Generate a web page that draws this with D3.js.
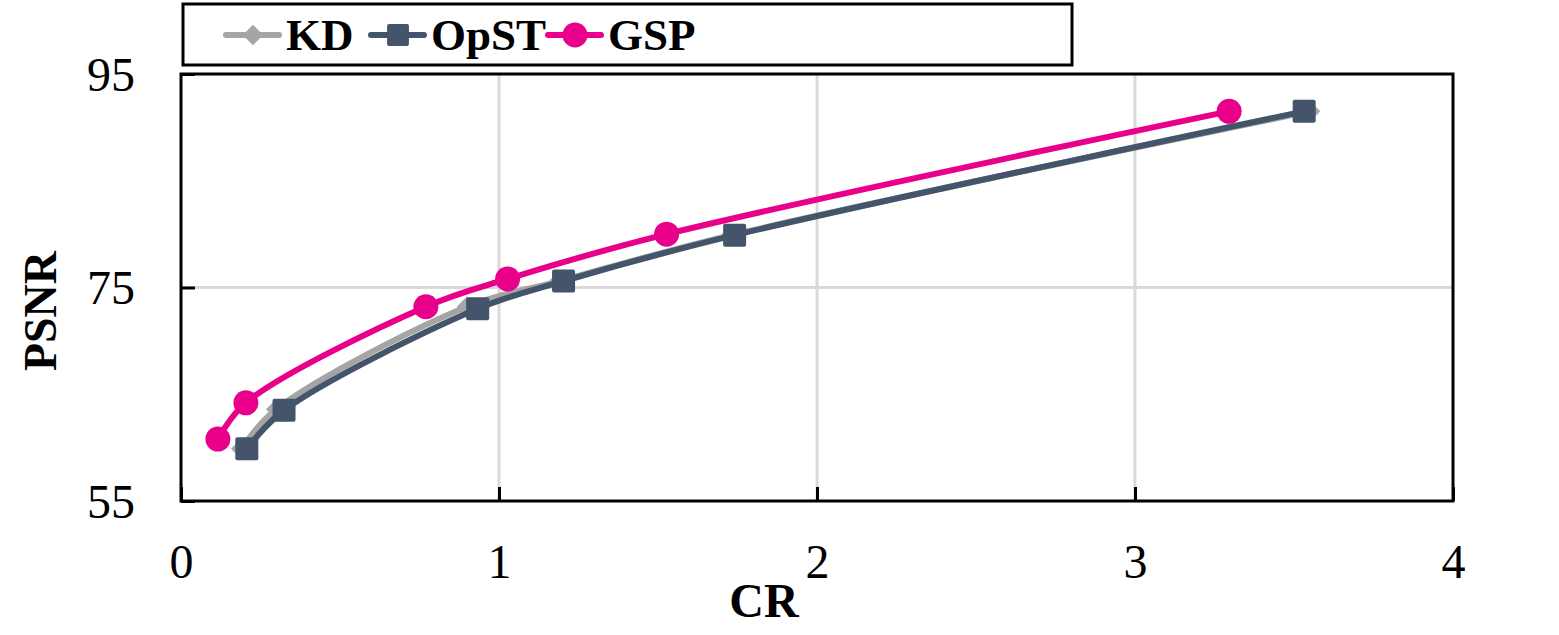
<!DOCTYPE html>
<html><head><meta charset="utf-8">
<script src="https://cdn.jsdelivr.net/npm/d3@7"></script>
<style>body{margin:0;background:#fff}svg{display:block}</style>
</head><body>
<svg id="c" width="1559" height="635"></svg>
<script>
const seriesNames = ["KD","OpST","GSP"];
const seriesColors = ["#A5A5A5","#44546A","#E8008B"];
const kdX = [0.19, 0.30, 0.90, 1.19, 1.73, 3.55];
const kdY = [59.9, 63.6, 73.2, 75.6, 79.9, 91.5];
const opstX = [0.207, 0.324, 0.933, 1.203, 1.741, 3.532];
const opstY = [59.9, 63.5, 73.0, 75.6, 79.9, 91.5];
const gspX = [0.116, 0.204, 0.77, 1.027, 1.527, 3.296];
const gspY = [60.8, 64.2, 73.2, 75.8, 80.0, 91.5];
const xTicks = [0,1,2,3,4];
const yTicks = [55,75,95];

const svg = d3.select("#c");
const L=181, R=1453, T=74, B=501;
const x = d3.scaleLinear().domain([0,4]).range([L,R]);
const y = d3.scaleLinear().domain([55,95]).range([B,T]);
const font = "'Liberation Serif','Times New Roman',serif";

// gridlines
svg.append("g").selectAll("line").data(xTicks.slice(1,-1)).join("line")
  .attr("x1",d=>x(d)).attr("x2",d=>x(d)).attr("y1",T).attr("y2",B)
  .attr("stroke","#D9D9D9").attr("stroke-width",3);
svg.append("g").selectAll("line").data(yTicks.slice(1,-1)).join("line")
  .attr("x1",L).attr("x2",R).attr("y1",d=>y(d)).attr("y2",d=>y(d))
  .attr("stroke","#D9D9D9").attr("stroke-width",3);

// axes (inward ticks)
const xAxis = svg.append("g").attr("transform",`translate(0,${B})`)
  .call(d3.axisBottom(x).tickValues(xTicks).tickSize(-14).tickPadding(30).tickFormat(d3.format("d")));
const yAxis = svg.append("g").attr("transform",`translate(${L},0)`)
  .call(d3.axisLeft(y).tickValues(yTicks).tickSize(-14).tickPadding(46).tickFormat(d3.format("d")));
[xAxis,yAxis].forEach(a=>{
  a.select(".domain").remove();
  a.selectAll(".tick line").attr("stroke","#000").attr("stroke-width",3);
  a.selectAll("text").attr("font-family",font).attr("font-size",48).attr("fill","#000");
});
xAxis.selectAll("text").attr("y",77).attr("dy","0");
yAxis.selectAll("text").attr("dy","0.34em");
// plot border
svg.append("rect").attr("x",L).attr("y",T).attr("width",R-L).attr("height",B-T)
  .attr("fill","none").attr("stroke","#000").attr("stroke-width",3);

// axis titles
svg.append("text").attr("x",764).attr("y",617).attr("text-anchor","middle")
  .attr("font-family",font).attr("font-weight","bold").attr("font-size",48).text("CR");
svg.append("text").attr("transform",`translate(56,311) rotate(-90)`).attr("text-anchor","middle")
  .attr("font-family",font).attr("font-weight","bold").attr("font-size",46).text("PSNR");

// series
const data = [
  {name:seriesNames[0], color:seriesColors[0], pts:kdX.map((v,i)=>[v,kdY[i]]), shape:"diamond"},
  {name:seriesNames[1], color:seriesColors[1], pts:opstX.map((v,i)=>[v,opstY[i]]), shape:"square"},
  {name:seriesNames[2], color:seriesColors[2], pts:gspX.map((v,i)=>[v,gspY[i]]), shape:"circle"}
];
const line = d3.line().x(d=>x(d[0])).y(d=>y(d[1])).curve(d3.curveCatmullRom.alpha(0.5));
function marker(g, shape, color, cx, cy, scale){
  scale = scale||1;
  if(shape==="diamond"){
    g.append("path").attr("d",d3.symbol(d3.symbolDiamond2, 280*scale)())
      .attr("transform",`translate(${cx},${cy})`).attr("fill",color);
  } else if(shape==="square"){
    const s=23*scale;
    g.append("rect").attr("x",cx-s/2).attr("y",cy-s/2).attr("width",s).attr("height",s).attr("rx",2)
      .attr("fill",color);
  } else {
    g.append("circle").attr("cx",cx).attr("cy",cy).attr("r",12.5*scale).attr("fill",color);
  }
}
data.forEach(s=>{
  const g = svg.append("g");
  g.append("path").datum(s.pts).attr("d",line).attr("fill","none")
    .attr("stroke",s.color).attr("stroke-width",6).attr("stroke-linecap","round");
  s.pts.forEach(p=>marker(g,s.shape,s.color,x(p[0]),y(p[1])));
});

// legend
const lg = svg.append("g");
lg.append("rect").attr("x",183).attr("y",4).attr("width",889).attr("height",61)
  .attr("fill","#fff").attr("stroke","#000").attr("stroke-width",3);
const legX = [226, 371, 548];
data.forEach((s,i)=>{
  const x0 = legX[i];
  lg.append("line").attr("x1",x0).attr("x2",x0+53).attr("y1",35).attr("y2",35)
    .attr("stroke",s.color).attr("stroke-width",6).attr("stroke-linecap","round");
  marker(lg,s.shape,s.color,x0+27,35, s.shape==="circle"?1.0:0.95);
  lg.append("text").attr("x",x0+60).attr("y",50).attr("font-family",font).attr("font-weight","bold")
    .attr("font-size",45).attr("fill","#000").text(s.name);
});
</script>
</body></html>
